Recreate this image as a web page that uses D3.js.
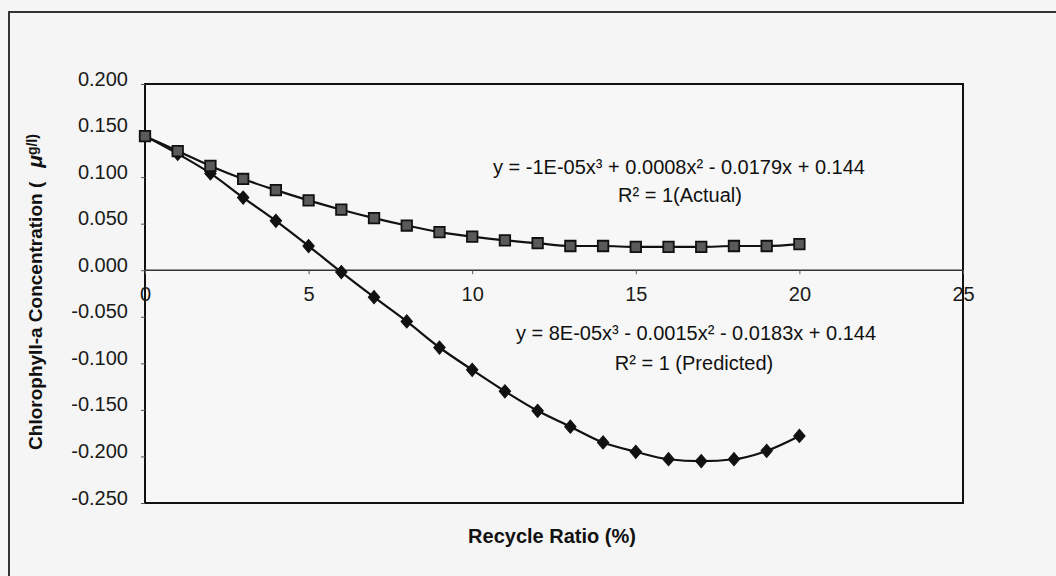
<!DOCTYPE html>
<html>
<head>
<meta charset="utf-8">
<script src="https://cdn.jsdelivr.net/npm/d3@7"></script>
<style>
  html, body { margin: 0; padding: 0; background: #f5f5f5; }
  svg { display: block; font-family: "Liberation Sans", Arial, sans-serif; }
  .tick text { fill: #1a1a1a; font-size: 20px; }
  .tick line { stroke: #555; }
  .domain { display: none; }
  .eqn { font-size: 20px; fill: #111; text-anchor: middle; }
</style>
</head>
<body>
<svg id="chart" width="1056" height="576"></svg>
<script>
// recycle ratio (%)
const ratios = [0, 1, 2, 3, 4, 5, 6, 7, 8, 9, 10, 11, 12, 13, 14, 15, 16, 17, 18, 19, 20];
// chlorophyll-a, actual (squares)
const actual = [0.144, 0.128, 0.112, 0.098, 0.086, 0.075, 0.065, 0.056, 0.048, 0.041, 0.036,
                0.032, 0.029, 0.026, 0.026, 0.025, 0.025, 0.025, 0.026, 0.026, 0.028];
// chlorophyll-a, predicted (diamonds)
const predicted = [0.144, 0.125, 0.104, 0.078, 0.053, 0.026, -0.002, -0.029, -0.055, -0.083, -0.107,
                   -0.130, -0.151, -0.168, -0.185, -0.195, -0.203, -0.205, -0.203, -0.194, -0.178];
const xTicks = [0, 5, 10, 15, 20, 25];
const yTicks = [0.2, 0.15, 0.1, 0.05, 0, -0.05, -0.1, -0.15, -0.2, -0.25];

const eqActual = ['y = -1E-05x³ + 0.0008x² - 0.0179x + 0.144', 'R² = 1(Actual)'];
const eqPredicted = ['y = 8E-05x³ - 0.0015x² - 0.0183x + 0.144', 'R² = 1 (Predicted)'];

const plot = { left: 145, right: 963, top: 84, bottom: 503 };

const svg = d3.select('#chart');

// outer border of the chart object
svg.append('path')
   .attr('d', 'M9,576V12H1056')
   .attr('fill', 'none')
   .attr('stroke', '#333')
   .attr('stroke-width', 2);

const xScale = d3.scaleLinear()
                 .domain([0, 25])
                 .range([plot.left, plot.right]);
const yScale = d3.scaleLinear()
                 .domain([-0.25, 0.2])
                 .range([plot.bottom, plot.top]);

// plot area frame
svg.append('rect')
   .attr('x', plot.left)
   .attr('y', plot.top)
   .attr('width', plot.right - plot.left)
   .attr('height', plot.bottom - plot.top)
   .attr('fill', '#f7f7f7')
   .attr('stroke', '#111')
   .attr('stroke-width', 2);

// y axis
const yAxis = svg.append('g')
   .attr('transform', `translate(${plot.left},0)`)
   .call(d3.axisLeft(yScale)
           .tickValues(yTicks)
           .tickFormat(d => d.toFixed(3))
           .tickSize(4)
           .tickPadding(13));
yAxis.selectAll('text').attr('dy', '0.05em');

// x axis crosses at y = 0
svg.append('line')
   .attr('x1', plot.left)
   .attr('x2', plot.right)
   .attr('y1', yScale(0))
   .attr('y2', yScale(0))
   .attr('stroke', '#333')
   .attr('stroke-width', 1.5);

svg.append('g')
   .attr('transform', `translate(0,${yScale(0)})`)
   .call(d3.axisBottom(xScale)
           .tickValues(xTicks)
           .tickFormat(d3.format('d'))
           .tickSize(4)
           .tickPadding(13));

const line = d3.line()
               .x((d, i) => xScale(ratios[i]))
               .y(d => yScale(d))
               .curve(d3.curveMonotoneX);

// predicted series
svg.append('path')
   .datum(predicted)
   .attr('d', line)
   .attr('fill', 'none')
   .attr('stroke', '#111')
   .attr('stroke-width', 2.2);

svg.append('g')
   .selectAll('path')
   .data(predicted)
   .join('path')
     .attr('d', d3.symbol().type(d3.symbolSquare).size(72))
     .attr('transform', (d, i) => `translate(${xScale(ratios[i])},${yScale(d)}) scale(0.95,1.1) rotate(45)`)
     .attr('fill', '#111')
     .attr('stroke', '#111')
     .attr('stroke-width', 1);

// actual series
svg.append('path')
   .datum(actual)
   .attr('d', line)
   .attr('fill', 'none')
   .attr('stroke', '#111')
   .attr('stroke-width', 2.2);

svg.append('g')
   .selectAll('path')
   .data(actual)
   .join('path')
     .attr('d', d3.symbol().type(d3.symbolSquare).size(110))
     .attr('transform', (d, i) => `translate(${xScale(ratios[i])},${yScale(d)})`)
     .attr('fill', '#5a5a5a')
     .attr('stroke', '#111')
     .attr('stroke-width', 1.8);

// trendline equations
svg.append('text').attr('class', 'eqn')
   .attr('x', 679).attr('y', 174).text(eqActual[0]);
svg.append('text').attr('class', 'eqn')
   .attr('x', 680).attr('y', 202).text(eqActual[1]);
svg.append('text').attr('class', 'eqn')
   .attr('x', 696).attr('y', 340).text(eqPredicted[0]);
svg.append('text').attr('class', 'eqn')
   .attr('x', 694).attr('y', 370).text(eqPredicted[1]);

// axis titles
svg.append('text')
   .attr('x', 552)
   .attr('y', 543)
   .attr('text-anchor', 'middle')
   .attr('font-size', 20)
   .attr('font-weight', 'bold')
   .attr('fill', '#111')
   .text('Recycle Ratio (%)');

const yTitle = svg.append('text')
   .attr('transform', 'translate(42,292) rotate(-90)')
   .attr('text-anchor', 'middle')
   .attr('font-size', 19)
   .attr('font-weight', 'bold')
   .attr('fill', '#111');
yTitle.append('tspan').text('Chlorophyll-a Concentration (');
yTitle.append('tspan').attr('dx', 14).attr('font-style', 'italic').attr('font-size', 21).text('μ');
yTitle.append('tspan').attr('font-size', 14).attr('dy', -5).text('g/l)');
</script>
</body>
</html>
